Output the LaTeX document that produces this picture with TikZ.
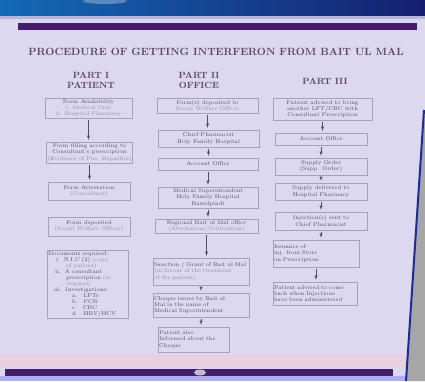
\documentclass[tikz,border=0pt]{standalone}
\definecolor{hgrund}{RGB}{220,216,240}
\definecolor{balken}{RGB}{68,30,108}
\definecolor{oben}{RGB}{28,42,150}
\definecolor{titel}{RGB}{95,70,105}
\definecolor{schrift}{RGB}{78,78,100}
\definecolor{hell}{RGB}{140,140,172}
\definecolor{rahmen}{RGB}{165,160,188}
\tikzset{
	kasten/.style={draw=rahmen, line width=0.4pt, inner sep=1pt, align=center, text=schrift, font=\fontsize{5.5}{6.3}\selectfont},
	pfeil/.style={draw=schrift, line width=0.5pt, ->, >=latex, shorten <=2pt, shorten >=2pt},
	kopf/.style={text=titel, font=\fontsize{9}{10}\bfseries\selectfont, align=center, inner sep=0pt}
}
\newcommand{\hl}[1]{\textcolor{hell}{#1}}
\begin{document}
\begin{tikzpicture}[x=1pt, y=-1pt]
	\useasboundingbox (0,0) rectangle (425,381);
	\fill[hgrund] (0,0) rectangle (425,381);%Hintergrund
	\shade[left color=oben!70!cyan, right color=oben!75!black] (0,0) rectangle (425,16);%Band oben
	\fill[oben!20!hgrund] (0,16) rectangle (425,19);
	\fill[white, opacity=0.3] (105,1) ellipse (22 and 3);
	\fill[balken] (18,23) rectangle (417,30);%Balken oben
	\fill[pink!30!hgrund] (0,354) rectangle (412,368);
	\fill[balken] (5,369) rectangle (393,376);%Balken unten
	\fill[white, opacity=0.7] (200,372.5) ellipse (6 and 3);
	\fill[blue!20!hgrund] (0,376) rectangle (412,381);
	\fill[gray!70] (425,110) -- (406,381) -- (425,381) -- cycle;%Rand rechts
	\draw[oben, line width=2pt] (424,110) -- (406,381);

	\node[kopf, font=\fontsize{10.5}{12}\bfseries\selectfont] (titel) at (216,52) {PROCEDURE OF GETTING INTERFERON FROM BAIT UL MAL};
	\node[kopf] (teil1) at (91,80) {PART I\\PATIENT};
	\node[kopf] (teil2) at (199,80) {PART II\\OFFICE};
	\node[kopf] (teil3) at (325,81) {PART III};

	%Teil I
	\node[kasten, minimum width=87, minimum height=20] (p1) at (88.5,108) {Form Availability\\\hl{i. Medical Unit}\\\hl{ii. Hospital Pharmacy}};
	\node[kasten, minimum width=85, minimum height=21] (p2) at (89.5,152.5) {Form filling according to\\Consultant's prescription\\\hl{(Evidence of Pos. Hepatitis)}};
	\node[kasten, minimum width=82, minimum height=18] (p3) at (89,191) {Form Attestation\\\hl{(Consultant)}};
	\node[kasten, minimum width=82, minimum height=19] (p4) at (89,226.5) {Form deposited\\\hl{(Social Welfare Officer)}};
	\node[kasten, align=left, text width=79, minimum height=68, font=\fontsize{5.5}{6}\selectfont] (p5) at (87.5,284) {Documents required:\\
		\hspace{8pt}i.\hspace{4pt}N.I.C (2) \hl{(copy}\\\hspace{18pt}\hl{of patient)}\\
		\hspace{7pt}ii.\hspace{4pt}A consultant\\\hspace{18pt}prescription \hl{(in}\\\hspace{18pt}\hl{original)}\\
		\hspace{6pt}iii.\hspace{4pt}Investigations:\\
		\hspace{24pt}a.\hspace{6pt}LFTs\\\hspace{24pt}b.\hspace{6pt}PCR\\\hspace{24pt}c.\hspace{6pt}CBC\\\hspace{24pt}d.\hspace{6pt}HBV/HCV};

	%Teil II
	\node[kasten, minimum width=101, minimum height=15] (o1) at (207.5,105.5) {Form(s) deposited to\\\hl{Social Welfare Officer}};
	\node[kasten, minimum width=101, minimum height=17] (o2) at (208.5,138.5) {Chief Pharmacist\\Holy Family Hospital};
	\node[kasten, minimum width=100, minimum height=12] (o3) at (208,164) {Account Office};
	\node[kasten, minimum width=100, minimum height=21] (o4) at (208,197.5) {Medical Superintendent\\Holy Family Hospital\\Rawalpindi};
	\node[kasten, minimum width=103, minimum height=12] (o5) at (206.5,226) {Regional Bait ul Mal office\\\hl{(Attestation/Verification)}};
	\node[kasten, align=left, text width=94, minimum height=27] (o6) at (201,271.5) {Sanction / Grant of Bait ul Mal\\\hl{(in favour of the treatment}\\\hl{of the patient)}};
	\node[kasten, align=left, text width=94, minimum height=24] (o7) at (201,305) {Cheque issues by Bait ul\\Mal in the name of\\Medical Superintendent};
	\node[kasten, align=left, text width=69, minimum height=25] (o8) at (193.5,339.5) {Patient also\\Informed about the\\Cheque};

	%Teil III
	\node[kasten, minimum width=99, minimum height=22] (t1) at (322.5,109) {Patient advised to bring\\another LFT/CBC with\\Consultant Prescription};
	\node[kasten, minimum width=92, minimum height=12] (t2) at (321,139) {Account Office};
	\node[kasten, minimum width=92, minimum height=17] (t3) at (321,166.5) {Supply Order\\(Supp. Order)};
	\node[kasten, minimum width=92, minimum height=17] (t4) at (321,191.5) {Supply delivered to\\Hospital Pharmacy};
	\node[kasten, minimum width=92, minimum height=18] (t5) at (321,221) {Injection(s) sent to\\Chief Pharmacist};
	\node[kasten, align=left, text width=84, minimum height=27] (t6) at (316,253.5) {Issuance of\\inj. from Store\\on Prescription};
	\node[kasten, align=left, text width=82, minimum height=23] (t7) at (315,293.5) {Patient advised to come\\back when Injections\\have been administered};

	%Pfeile
	\draw[pfeil] (p1.south) -- (p1.south |- p2.north);
	\draw[pfeil] (p2.south) -- (p2.south |- p3.north);
	\draw[pfeil] (o1.south) -- (o1.south |- o2.north);
	\draw[pfeil] (o2.south) -- (o2.south |- o3.north);
	\draw[pfeil] (o3.south) -- (o3.south |- o4.north);
	\draw[pfeil] (o4.south) -- (o4.south |- o5.north);
	\draw[pfeil] (o5.south) -- (o5.south |- o6.north);
	\draw[pfeil] (o6.south) -- (o6.south |- o7.north);
	\draw[pfeil] (o7.south) -- (o7.south |- o8.north);
	\draw[pfeil] (t1.south) -- (t1.south |- t2.north);
	\draw[pfeil] (t2.south) -- (t2.south |- t3.north);
	\draw[pfeil] (t3.south) -- (t3.south |- t4.north);
	\draw[pfeil] (t4.south) -- (t4.south |- t5.north);
	\draw[pfeil] (t5.south) -- (t5.south |- t6.north);
	\draw[pfeil] (t6.south) -- (t6.south |- t7.north);
\end{tikzpicture}
\end{document}
